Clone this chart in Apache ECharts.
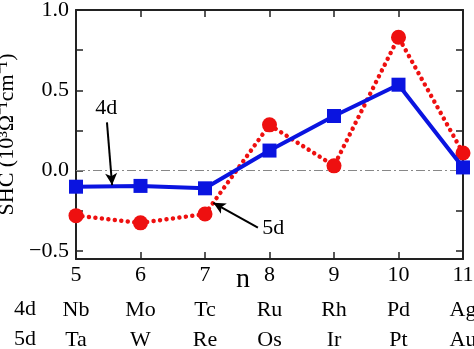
<!DOCTYPE html>
<html>
<head>
<meta charset="utf-8">
<script src="https://cdn.jsdelivr.net/npm/echarts@6/dist/echarts.min.js"></script>
<style>
  html, body { margin: 0; padding: 0; background: #fff; }
  #main { width: 474px; height: 349px; }
</style>
</head>
<body>
<div id="main"></div>
<script>
    // 数据
    var nValues = [5, 6, 7, 8, 9, 10, 11];
    var shellNames = ['4d', '5d'];
    var elements4d = ['Nb', 'Mo', 'Tc', 'Ru', 'Rh', 'Pd', 'Ag'];
    var elements5d = ['Ta', 'W', 'Re', 'Os', 'Ir', 'Pt', 'Au'];
    var shc4d = [-0.10, -0.095, -0.11, 0.125, 0.34, 0.535, 0.02];
    var shc5d = [-0.28, -0.325, -0.27, 0.285, 0.03, 0.83, 0.11];
    var yTicks = [-0.5, -0.25, 0, 0.25, 0.5, 0.75, 1.0];
    var yLabels = [-0.5, 0, 0.5, 1.0];

    var font = 'Liberation Serif';
    var myChart = echarts.init(document.getElementById('main'));

    function pairs(xs, ys) {
        return xs.map(function (x, i) { return [x, ys[i]]; });
    }
    function elemAt(list) {
        return function (v) { return list[nValues.indexOf(v)] || ''; };
    }
    var hidden = { show: false };
    var frameLine = { show: true, onZero: false, lineStyle: { color: '#222', width: 2 } };
    var frameTick = { show: true, inside: true, length: 7, lineStyle: { color: '#222', width: 1.5 } };

    var option = {
        animation: false,
        backgroundColor: '#fff',
        grid: { left: 76, right: 11, top: 10, bottom: 90, containLabel: false, outerBoundsMode: 'none' },
        graphic: [
            { type: 'text', left: 236, top: 266, style: { text: 'n', font: '28px "Liberation Serif"', fill: '#000' } },
            { type: 'text', left: 14, top: 298, style: { text: shellNames[0], font: '22px "Liberation Serif"', fill: '#000' } },
            { type: 'text', left: 14, top: 328, style: { text: shellNames[1], font: '22px "Liberation Serif"', fill: '#000' } }
        ],
        xAxis: [
            {
                type: 'value', min: 5, max: 11, interval: 1,
                axisLine: frameLine, axisTick: frameTick,
                axisLabel: { color: '#000', fontFamily: font, fontSize: 22, margin: 5 },
                splitLine: hidden
            },
            {
                type: 'value', min: 5, max: 11, interval: 1, position: 'bottom', offset: 51,
                axisLine: hidden, axisTick: hidden, splitLine: hidden,
                axisLabel: { color: '#000', fontFamily: font, fontSize: 22, margin: 0, verticalAlign: 'middle', formatter: elemAt(elements4d) }
            },
            {
                type: 'value', min: 5, max: 11, interval: 1, position: 'bottom', offset: 81,
                axisLine: hidden, axisTick: hidden, splitLine: hidden,
                axisLabel: { color: '#000', fontFamily: font, fontSize: 22, margin: 0, verticalAlign: 'middle', formatter: elemAt(elements5d) }
            },
            {
                type: 'value', min: 5, max: 11, interval: 1, position: 'top',
                axisLine: frameLine, axisTick: frameTick,
                axisLabel: hidden, splitLine: hidden
            }
        ],
        yAxis: [
            {
                type: 'value', min: -0.55, max: 1.0, position: 'left',
                name: 'SHC (10³Ω⁻¹cm⁻¹)', nameLocation: 'middle', nameGap: 58, nameMoveOverlap: false,
                nameTextStyle: { color: '#000', fontFamily: font, fontSize: 22 },
                axisLine: frameLine,
                axisTick: { show: true, inside: true, length: 7, customValues: yTicks, lineStyle: { color: '#222', width: 1.5 } },
                axisLabel: {
                    color: '#000', fontFamily: font, fontSize: 22, margin: 7, customValues: yLabels,
                    formatter: function (v) { return (v < 0 ? '\u2212' : '') + Math.abs(v).toFixed(1); }
                },
                splitLine: hidden
            },
            {
                type: 'value', min: -0.55, max: 1.0, position: 'right',
                axisLine: frameLine,
                axisTick: { show: true, inside: true, length: 7, customValues: yTicks, lineStyle: { color: '#222', width: 1.5 } },
                axisLabel: hidden, splitLine: hidden
            }
        ],
        series: [
            {
                name: '5d', type: 'line', data: pairs(nValues, shc5d),
                symbol: 'circle', symbolSize: 15,
                itemStyle: { color: '#ee1010' },
                lineStyle: { color: '#ee1010', width: 4.5, type: [0.01, 6.5], cap: 'round' },
                z: 3,
                markLine: {
                    silent: true, symbol: 'none', label: hidden,
                    lineStyle: { color: '#888', width: 1, type: [9, 3, 2, 3] },
                    data: [{ yAxis: 0 }],
                    z: 1
                }
            },
            {
                name: '4d', type: 'line', data: pairs(nValues, shc4d),
                symbol: 'rect', symbolSize: 14,
                itemStyle: { color: '#0a14e0' },
                lineStyle: { color: '#0a14e0', width: 4 },
                z: 4,
                markLine: {
                    silent: true, symbol: ['none', 'arrow'], symbolSize: [9, 12], label: hidden,
                    lineStyle: { color: '#000', width: 2, type: 'solid' },
                    data: [
                        [{ coord: [5.48, 0.30] }, { coord: [5.56, -0.09] }],
                        [{ coord: [7.82, -0.355] }, { coord: [7.13, -0.20] }]
                    ]
                },
                markPoint: {
                    silent: true, symbolSize: 0,
                    label: { show: true, color: '#000', fontFamily: font, fontSize: 22, formatter: '{b}' },
                    data: [
                        { name: shellNames[0], coord: [5.47, 0.39] },
                        { name: shellNames[1], coord: [8.06, -0.36] }
                    ]
                }
            }
        ]
    };
    myChart.setOption(option);
</script>
</body>
</html>
